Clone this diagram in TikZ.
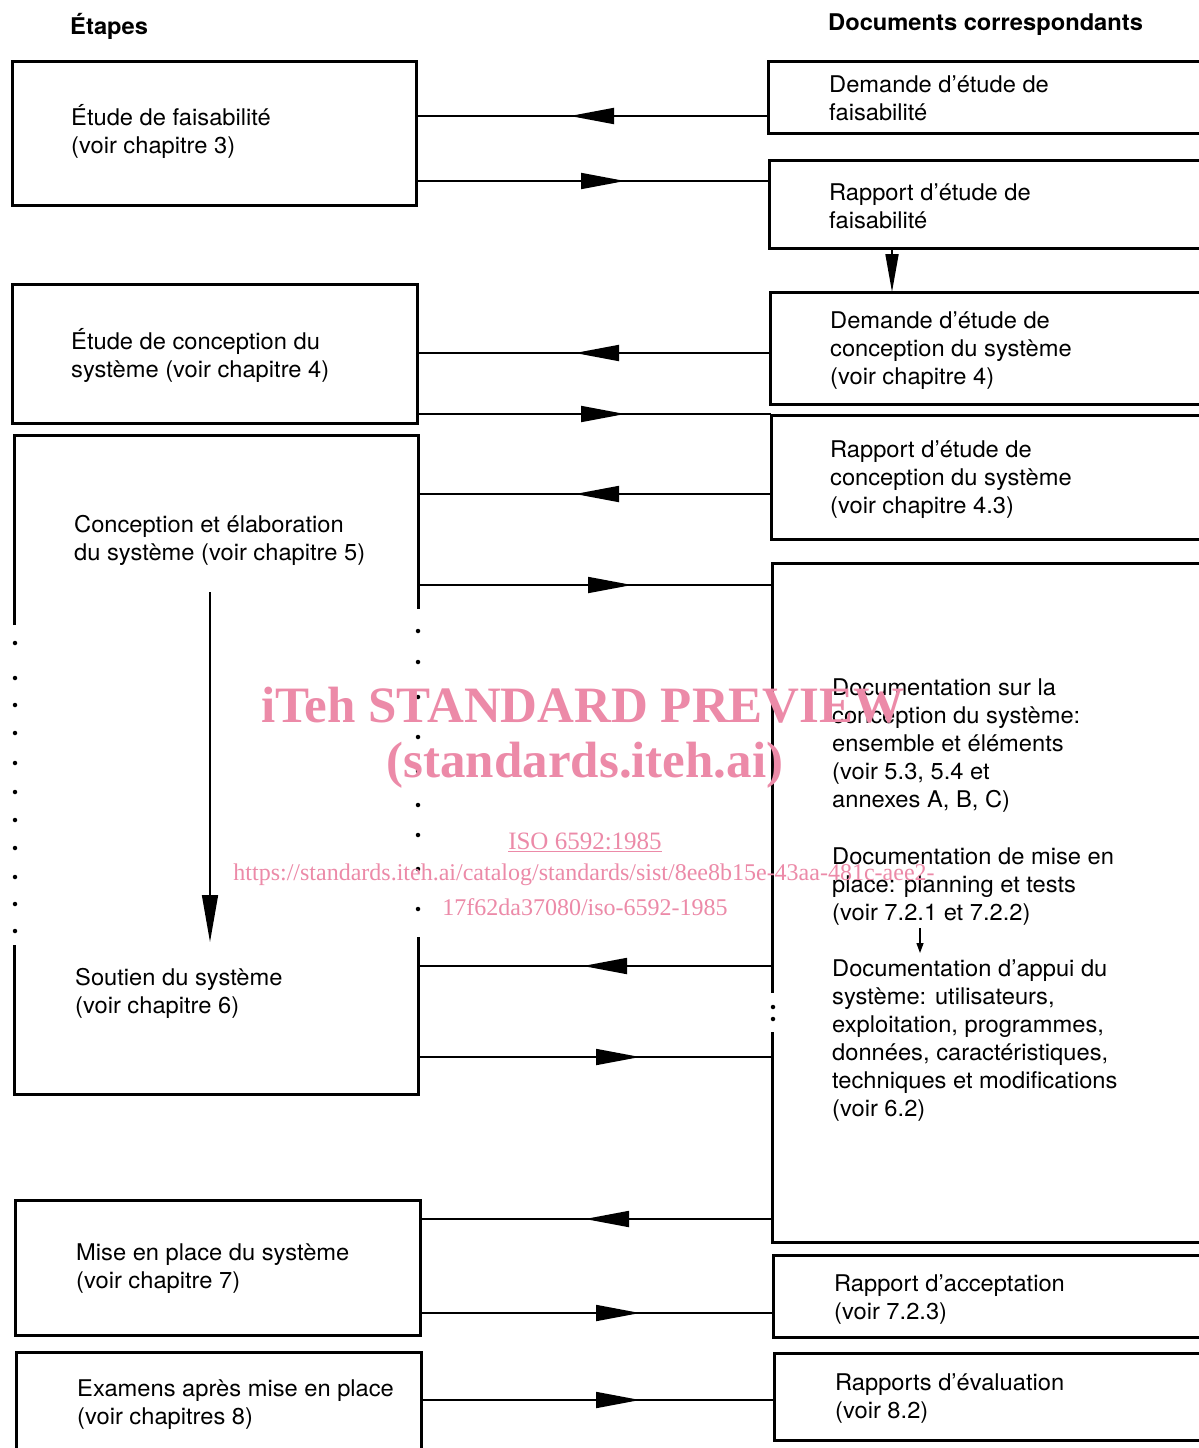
\documentclass[tikz,border=0pt]{standalone}
\usepackage{fontspec}
\setmainfont{TeX Gyre Heros}[FakeStretch=1.03]
\newfontfamily\wmfont{Liberation Serif}
\usetikzlibrary{arrows.meta,decorations.markings,calc}
\definecolor{wmpink}{RGB}{236,138,168}
\begin{document}
\begin{tikzpicture}[x=1pt,y=-1pt,
  boxline/.style={line width=3pt},
  box/.style={boxline, draw, rectangle, inner sep=0pt, outer sep=0pt, anchor=north west},
  openbox/.style={rectangle, inner sep=0pt, outer sep=0pt, anchor=north west},
  txt/.style={font=\fontsize{23}{28}\selectfont, align=left, inner sep=0pt, anchor=west},
  hd/.style={font=\fontsize{23}{28}\selectfont\bfseries, inner sep=0pt, anchor=west},
  conn/.style={line width=1.8pt},
  tipat/.style={postaction={decorate}, decoration={markings, mark=at position #1 with {\arrow{Triangle[length=44pt,width=16pt]}}}},
  dot/.style={circle, fill, inner sep=0pt, minimum size=4.5pt},
  wm/.style={text=wmpink, inner sep=0pt, anchor=center}
]
\useasboundingbox (0,0) rectangle (1199,1448);
\fill[white] (0,0) rectangle (1199,1448);
\clip (0,0) rectangle (1199,1448);

% headings
\node[hd] (hL) at (70,26) {Étapes};
\node[hd] (hR) at (828,25) {Documents correspondants};

% left boxes (stages)
\node[box, minimum width=404pt, minimum height=144pt] (s1) at (12,61) {};
\node[box, minimum width=405pt, minimum height=139pt] (s2) at (12,284) {};
\node[openbox, minimum width=404pt, minimum height=659pt] (s3) at (14,435) {};
\node[box, minimum width=405pt, minimum height=135pt] (s4) at (15,1200) {};
\node[box, minimum width=405pt, minimum height=120pt] (s5) at (16,1352) {};

% broken box s3
\draw[boxline] (14,625) -- (14,435) -- (418,435) -- (418,609);
\draw[boxline] (14,945) -- (14,1094) -- (418,1094) -- (418,937);
\foreach \yy in {643,678,705,733,763,792,820,848,877,904,931}
  \node[dot] at (15,\yy) {};
\foreach \yy in {631,662,697,737,771,805,835,869,909}
  \node[dot] at (418,\yy) {};

% right boxes (documents)
\node[box, minimum width=462pt, minimum height=72pt] (dA) at (768,61) {};
\node[box, minimum width=461pt, minimum height=88pt] (dB) at (769,160) {};
\node[box, minimum width=460pt, minimum height=112pt] (dC) at (770,292) {};
\node[box, minimum width=459pt, minimum height=124pt] (dD) at (771,415) {};
\node[openbox, minimum width=458pt, minimum height=679pt] (dE) at (772,563) {};
\node[box, minimum width=457pt, minimum height=82pt] (dF) at (773,1255) {};
\node[box, minimum width=456pt, minimum height=87pt] (dG) at (774,1353) {};

% broken box dE
\draw[boxline] (1240,563) -- (772,563) -- (772,993);
\draw[boxline] (772,1032) -- (772,1242) -- (1240,1242);
\node[dot] at (773,1007) {};
\node[dot] at (773,1019) {};

% texts left
\node[txt] (t1) at (71,131) {Étude de faisabilité\\(voir chapitre 3)};
\node[txt] (t2) at (71,355) {Étude de conception du\\système (voir chapitre 4)};
\node[txt] (t3) at (74,540) {Conception et élaboration\\du système (voir chapitre 5)};
\node[txt] (t3b) at (75,993) {Soutien du système\\(voir chapitre 6)};
\node[txt] (t4) at (76,1269) {Mise en place du système\\(voir chapitre 7)};
\node[txt] (t5) at (77,1405) {Examens après mise en place\\(voir chapitres 8)};

% texts right
\node[txt] (tA) at (829,98) {Demande d’étude de\\faisabilité};
\node[txt] (tB) at (829,206) {Rapport d’étude de\\faisabilité};
\node[txt] (tC) at (830,351) {Demande d’étude de\\conception du système\\(voir chapitre 4)};
\node[txt] (tD) at (830,480) {Rapport d’étude de\\conception du système\\(voir chapitre 4.3)};
\node[txt] (tE1) at (832,746) {Documentation sur la\\conception du système:\\ensemble et éléments\\(voir 5.3, 5.4 et\\annexes A, B, C)};
\node[txt] (tE2) at (832,887) {Documentation de mise en\\place: planning et tests\\(voir 7.2.1 et 7.2.2)};
\node[txt] (tE3) at (832,1041) {Documentation d’appui du\\système: utilisateurs,\\exploitation, programmes,\\données, caractéristiques,\\techniques et modifications\\(voir 6.2)};
\node[txt] (tF) at (834,1300) {Rapport d’acceptation\\(voir 7.2.3)};
\node[txt] (tG) at (835,1399) {Rapports d’évaluation\\(voir 8.2)};

% levels of the horizontal connectors
\coordinate (h1) at (0,116);
\coordinate (h2) at (0,181);
\coordinate (h3) at (0,353);
\coordinate (h4) at (0,414);
\coordinate (h5) at (0,494);
\coordinate (h6) at (0,585);
\coordinate (h7) at (0,966);
\coordinate (h8) at (0,1057);
\coordinate (h9) at (0,1219);
\coordinate (h10) at (0,1313);
\coordinate (h11) at (0,1400);

\draw[conn, tipat=198pt] (dA.west |- h1) -- (s1.east |- h1);
\draw[conn, tipat=209pt] (s1.east |- h2) -- (dB.west |- h2);
\draw[conn, tipat=195pt] (dC.west |- h3) -- (s2.east |- h3);
\draw[conn, tipat=208pt] (s2.east |- h4) -- (dD.west |- h4);
\draw[conn, tipat=196pt] (dD.west |- h5) -- (s3.east |- h5);
\draw[conn, tipat=214pt] (s3.east |- h6) -- (dE.west |- h6);
\draw[conn, tipat=189pt] (dE.west |- h7) -- (s3.east |- h7);
\draw[conn, tipat=222pt] (s3.east |- h8) -- (dE.west |- h8);
\draw[conn, tipat=187pt] (dE.west |- h9) -- (s4.east |- h9);
\draw[conn, tipat=220pt] (s4.east |- h10) -- (dF.west |- h10);
\draw[conn, tipat=219pt] (s5.east |- h11) -- (dG.west |- h11);

% vertical connectors
\coordinate (vB) at (892,0);
\draw[conn, -{Triangle[length=38pt,width=13pt]}] (dB.south -| vB) -- (dC.north -| vB);
\coordinate (a3) at (210,592);
\coordinate (b3) at (210,942);
\draw[line width=1.6pt, -{Triangle[length=47pt,width=16pt]}] (a3) -- (b3);
\coordinate (aE) at (920,928);
\coordinate (bE) at (920,953);
\draw[line width=1.2pt, -{Triangle[length=10pt,width=7pt]}] (aE) -- (bE);

% watermark
\node[wm, font=\wmfont\bfseries\fontsize{51}{56}\selectfont] (w1) at (583,705) {iTeh STANDARD PREVIEW};
\node[wm, font=\wmfont\bfseries\fontsize{51}{56}\selectfont] (w2) at (585,765) {(standards.iteh.ai)};
\node[wm, font=\wmfont\fontsize{25}{28}\selectfont] (w3) at (585,842) {\underline{ISO 6592:1985}};
\node[wm, font=\wmfont\fontsize{24}{28}\selectfont] (w4) at (584,875) {https://standards.iteh.ai/catalog/standards/sist/8ee8b15e-43aa-481c-aee2-};
\node[wm, font=\wmfont\fontsize{24}{28}\selectfont] (w5) at (585,907) {17f62da37080/iso-6592-1985};
\end{tikzpicture}
\end{document}
